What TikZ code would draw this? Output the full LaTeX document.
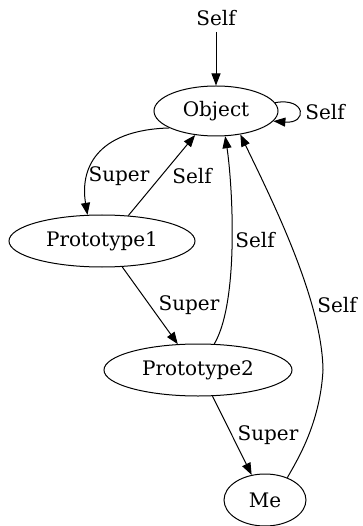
\documentclass[tikz,border=0pt]{standalone}
\usepackage{fontspec}
\setmainfont{DejaVu Serif}
\usetikzlibrary{shapes.geometric, arrows.meta, positioning}

\begin{document}
\begin{tikzpicture}[x=1pt,y=-1pt,
  every node/.style={font=\fontsize{20}{22}\selectfont},
  state/.style={ellipse,draw,line width=1pt,inner sep=0pt,minimum height=52pt},
  lbl/.style={inner sep=0pt},
  arr/.style={line width=1pt,-{Triangle[length=12pt,width=9pt]}}]
\useasboundingbox (0,0) rectangle (362,526);
\node[lbl,inner sep=6pt] (start) at (216,18) {Self};
\node[state,minimum width=124pt,minimum height=50pt] (Object) at (216,111) {Object};
\node[state,minimum width=186pt] (Prototype1) at (102,241) {Prototype1};
\node[state,minimum width=188pt] (Prototype2) at (198,370) {Prototype2};
\node[state,minimum width=82pt] (Me) at (265,500) {Me};
% edge labels
\node[lbl] (loopSelf) at (325,112) {Self};
\node[lbl] (superA) at (119,176) {Super};
\node[lbl] (selfA) at (192,176) {Self};
\node[lbl] (superB) at (189,305) {Super};
\node[lbl] (selfB) at (255,240) {Self};
\node[lbl] (superC) at (268,435) {Super};
\node[lbl] (selfC) at (337,305) {Self};
% edges
\draw[arr] (start) -- (Object);
\draw[arr] (Object.8) .. controls (306,97) and (308,124) .. (Object.-10);
\draw[arr] (Object.200) .. controls (95,130) and (80,170) .. (Prototype1.119);
\draw[arr] (Prototype1.44) -- (Object.229);
\draw[arr] (Prototype1.-52) -- (Prototype2.128);
\draw[arr] (Prototype2.58) .. controls (240,300) and (232,180) .. (Object.-70);
\draw[arr] (Prototype2.-61) -- (Me.118);
\draw[arr] (Me.45) .. controls (296,462) and (320,425) .. (323,370)
  .. controls (322,300) and (272,200) .. (Object.-44);
\end{tikzpicture}
\end{document}
